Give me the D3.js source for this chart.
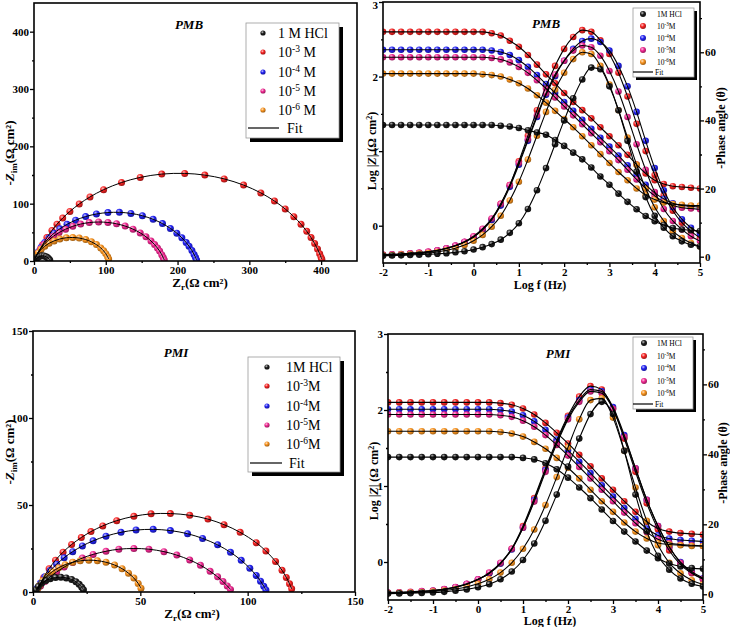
<!DOCTYPE html>
<html lang="en">
<head>
<meta charset="UTF-8">
<title>EIS PMB / PMI</title>
<script src="https://d3js.org/d3.v7.min.js"></script>
<style>
  body { margin: 0; background: #fff; }
  svg { display: block; font-family: 'Liberation Serif', 'Times New Roman', serif; }
</style>
</head>
<body>
<svg id="chart" width="730" height="627"></svg>
<script>
// series order: 1 M HCl, 10^-3, 10^-4, 10^-5, 10^-6 M
const seriesColors = ['#1c1c1c', '#f52222', '#2222f2', '#ee2790', '#f7921e'];
const concExp = ['-3', '-4', '-5', '-6'];

// Nyquist, PMB  [Zr, -Zim]
const pmbNyqHCl = [[2,1.5],[3.5,4],[5.5,6.5],[8,8.2],[11,9],[14,8.8],[17,7.5],[19.5,5.2],[21,3.2],[22,1.2]];
const pmbNyqE3 = [[6,12.6],[12,28.2],[18,40.8],[25,53.3],[32,64.1],[40,74.9],[50,86.5],[63,99.4],[78,111.7],[97,124.4],[122,136.9],[148,145.8],[178,151.6],[210,152.8],[238,149.8],[265,143.2],[292,132.4],[316,118.8],[335,104.6],[350,90.7],[362,77.3],[372,64.1],[380,51.7],[386,40.8],[391,30.4],[395,20.8],[398,12.6],[400,6.4],[401,3.0]];
const pmbNyqE4 = [[3,8.9],[6,16.1],[10,24.0],[15,32.2],[21,40.4],[28,48.5],[36,56.1],[46,63.9],[58,71.2],[72,77.5],[87,82.0],[103,84.5],[119,84.9],[135,83.0],[151,78.9],[166,72.7],[179,65.2],[190,56.9],[199,48.5],[206,40.4],[212,32.2],[216,25.8],[220,18.2],[223,11.5],[225,6.2],[226.5,1.7]];
const pmbNyqE5 = [[2,6.0],[5,13.2],[9,20.9],[14,28.6],[20,36.1],[27,43.2],[35,49.7],[44,55.5],[54,60.5],[65,64.4],[77,67.0],[90,68.0],[103,67.2],[115,64.9],[127,60.9],[138,55.5],[148,49.0],[156,42.2],[163,34.9],[168,28.6],[172,22.5],[175,17.3],[178,11.0],[180,6.0],[181.5,1.7]];
const pmbNyqE6 = [[1,3.5],[3,8.7],[6,14.6],[10,20.4],[15,25.9],[21,30.9],[28,35.1],[36,38.4],[45,40.5],[54,41.0],[63,40.0],[72,37.4],[80,33.5],[87,28.6],[93,22.8],[97,17.7],[100,12.8],[102.5,7.6],[104,3.5]];

// Nyquist, PMI
const pmiNyqHCl = [[1.5,1.3],[2.5,3.1],[4,5.0],[6,6.6],[8,7.6],[10.5,8.3],[13,8.5],[15.5,8.1],[18,7.2],[20,5.9],[21.5,4.4],[22.7,2.8],[23.5,1.3]];
const pmiNyqE3 = [[3,3.3],[5,8.4],[7.5,13.4],[10.5,18.3],[14,22.9],[18,27.3],[22.5,31.3],[27,34.7],[32.5,38.0],[39,41.0],[47,43.5],[55,44.9],[64,45.1],[73,44.1],[81.5,41.9],[89,38.7],[96.5,34.3],[104,28.3],[108.5,23.5],[113,17.6],[116,12.5],[118,8.4],[119.5,4.7],[120.5,1.8]];
const pmiNyqE4 = [[2,2.3],[3.5,5.2],[5.5,8.7],[8,12.3],[11,16.0],[14.5,19.7],[18.5,23.2],[23,26.5],[28,29.4],[34,32.1],[41,34.3],[48,35.6],[56,36.0],[64,35.3],[72,33.5],[79,30.8],[86,27.1],[92,22.8],[97,18.2],[101,13.6],[104,9.5],[106,6.2],[107.5,3.3],[108.5,1.2]];
const pmiNyqE5 = [[2,1.5],[3.5,3.5],[5.5,6.0],[8,8.7],[11,11.5],[14.5,14.3],[18.5,17.0],[23,19.5],[28,21.6],[34,23.4],[40,24.6],[47,25.0],[54,24.6],[61,23.2],[67,21.2],[73,18.4],[78,15.4],[82.5,11.9],[86,8.7],[88.5,6.0],[90.5,3.5],[92,1.5]];
const pmiNyqE6 = [[2,1.5],[3,3.7],[4.5,6.4],[6.5,9.1],[9,11.7],[12,14.0],[15,15.7],[18.5,17.1],[22,17.9],[26,18.3],[30,18.0],[34,17.1],[38,15.5],[41.5,13.4],[44.5,10.8],[47,8.0],[49,4.9],[50.3,2.2]];

// Bode, PMB (log f step 0.2)
const freqPMB = [-2,-1.8,-1.6,-1.4,-1.2,-1,-0.8,-0.6,-0.4,-0.2,0,0.2,0.4,0.6,0.8,1,1.2,1.4,1.6,1.8,2,2.2,2.4,2.6,2.8,3,3.2,3.4,3.6,3.8,4,4.2,4.4,4.6,4.8,5];
const pmbZHCl = [1.35,1.35,1.35,1.35,1.35,1.35,1.35,1.35,1.35,1.35,1.35,1.35,1.35,1.34,1.33,1.31,1.28,1.25,1.22,1.15,1.07,0.98,0.89,0.78,0.66,0.55,0.43,0.32,0.22,0.13,0.06,0.01,-0.03,-0.05,-0.06,-0.07];
const pmbZE3 = [2.6,2.6,2.6,2.6,2.6,2.6,2.6,2.6,2.6,2.6,2.6,2.6,2.58,2.55,2.48,2.40,2.29,2.16,2.03,1.91,1.78,1.66,1.55,1.44,1.32,1.20,1.08,0.95,0.82,0.70,0.61,0.56,0.53,0.52,0.51,0.50];
const pmbZE4 = [2.36,2.36,2.36,2.36,2.36,2.36,2.36,2.36,2.36,2.36,2.36,2.36,2.35,2.33,2.29,2.22,2.13,2.02,1.90,1.78,1.66,1.54,1.42,1.30,1.18,1.06,0.94,0.81,0.68,0.55,0.44,0.36,0.30,0.27,0.26,0.25];
const pmbZE5 = [2.26,2.26,2.26,2.26,2.26,2.26,2.26,2.26,2.26,2.26,2.26,2.26,2.25,2.23,2.19,2.13,2.05,1.95,1.84,1.72,1.60,1.48,1.36,1.24,1.12,1.00,0.88,0.75,0.62,0.50,0.40,0.32,0.27,0.24,0.23,0.22];
const pmbZE6 = [2.04,2.04,2.04,2.04,2.04,2.04,2.04,2.04,2.04,2.04,2.04,2.03,2.02,2.00,1.96,1.91,1.84,1.75,1.65,1.54,1.43,1.32,1.20,1.08,0.96,0.84,0.72,0.61,0.50,0.41,0.35,0.31,0.29,0.28,0.27,0.27];
const pmbPhHCl = [0.3,0.35,0.4,0.5,0.6,0.7,0.85,1.0,1.3,1.6,2.1,2.8,3.7,5.0,7.0,9.8,14,19.5,26,33,40,46.5,52,55.5,55,50,43,34,25,17.5,12,8.5,6,4.5,3.5,3];
const pmbPhE3 = [0.5,0.6,0.7,0.9,1.1,1.4,1.8,2.4,3.2,4.3,5.8,8,11,15.5,21,28,35.5,43,50,56,61,64.5,66.5,66,63.5,59.5,54,47,39,31,24,18,13.5,10,7.5,5.5];
const pmbPhE4 = [0.5,0.6,0.7,0.9,1.1,1.4,1.8,2.4,3.2,4.3,5.8,7.9,10.8,15,20.5,27,34,41,47.5,53,57.5,61,63.3,64,63,60.5,56,50,42.5,34,26,19.5,14.5,11,8.5,6.8];
const pmbPhE5 = [0.6,0.7,0.8,1.0,1.2,1.5,1.9,2.5,3.3,4.4,6,8.2,11.2,15.5,21,27.5,34.5,41.5,48,53.5,57.5,60.5,62,61.5,59,54.5,48.5,41,33,25.5,19,14,10.5,8,6,4.6];
const pmbPhE6 = [0.4,0.5,0.6,0.7,0.9,1.1,1.4,1.9,2.5,3.4,4.7,6.4,8.8,12,16.5,22,28.5,35.5,42.5,49,54,58,60,59.5,56,50.5,43,35,27,20,14.5,10.5,7.5,5.5,4,3];

// Bode, PMI (log f step 0.25)
const freqPMI = [-2,-1.75,-1.5,-1.25,-1,-0.75,-0.5,-0.25,0,0.25,0.5,0.75,1,1.25,1.5,1.75,2,2.25,2.5,2.75,3,3.25,3.5,3.75,4,4.25,4.5,4.75,5];
const pmiZHCl = [1.38,1.38,1.38,1.38,1.38,1.38,1.38,1.38,1.38,1.38,1.38,1.38,1.37,1.35,1.30,1.22,1.11,0.98,0.84,0.69,0.54,0.40,0.27,0.15,0.05,-0.02,-0.06,-0.08,-0.09];
const pmiZE3 = [2.10,2.10,2.10,2.10,2.10,2.10,2.10,2.10,2.10,2.10,2.09,2.07,2.02,1.94,1.83,1.70,1.56,1.41,1.26,1.10,0.95,0.80,0.66,0.53,0.44,0.40,0.38,0.37,0.36];
const pmiZE4 = [2.01,2.01,2.01,2.01,2.01,2.01,2.01,2.01,2.01,2.01,2.00,1.98,1.93,1.85,1.74,1.61,1.47,1.32,1.17,1.01,0.86,0.71,0.57,0.44,0.35,0.31,0.29,0.28,0.27];
const pmiZE5 = [1.94,1.94,1.94,1.94,1.94,1.94,1.94,1.94,1.94,1.94,1.93,1.91,1.86,1.78,1.67,1.54,1.40,1.25,1.10,0.95,0.80,0.65,0.51,0.39,0.30,0.25,0.23,0.22,0.21];
const pmiZE6 = [1.72,1.72,1.72,1.72,1.72,1.72,1.72,1.72,1.72,1.72,1.71,1.69,1.65,1.58,1.49,1.37,1.24,1.10,0.95,0.80,0.66,0.52,0.40,0.31,0.25,0.23,0.22,0.21,0.21];
const pmiPhHCl = [0.2,0.25,0.3,0.4,0.5,0.7,1.0,1.4,2.0,2.9,4.3,6.5,9.8,14.5,21,28.5,36.5,44.5,51.5,55,51.5,41,28.5,18,11,7,4.5,3,2.2];
const pmiPhE3 = [0.4,0.5,0.6,0.8,1.0,1.4,2.0,2.9,4.2,6.0,8.8,13,19.5,27.5,36,44,51,56.5,59.5,58.5,53,44.5,35,26,18.5,12.5,8.5,6,4.3];
const pmiPhE4 = [0.4,0.5,0.6,0.8,1.0,1.4,2.0,2.9,4.2,6.0,8.8,12.8,19,27,35.5,43.5,50.5,55.5,58.5,58,53.5,45.5,36,27,19.5,13.5,9.2,6.5,4.6];
const pmiPhE5 = [0.5,0.6,0.7,0.9,1.1,1.5,2.1,3.0,4.3,6.2,9.0,13,19,26.5,35,43,50,55,58,57.5,53,45,36,27,19.5,13.5,9,6.2,4.4];
const pmiPhE6 = [0.3,0.4,0.5,0.6,0.8,1.1,1.5,2.1,3.0,4.3,6.2,9.0,13,18.5,25.5,33.5,42,50,55.5,56,50.5,41,30.5,21,14,9,6,4,2.8];

const svg = d3.select('#chart');
const defs = svg.append('defs');
const fmt = d => String(d);   // plain hyphen minus, like the original

// shaded ball markers
seriesColors.forEach((c, i) => {
  const gr = defs.append('radialGradient').attr('id', 'ball' + i)
    .attr('cx', '38%').attr('cy', '34%').attr('r', '68%');
  gr.append('stop').attr('offset', '0%').attr('stop-color', d3.interpolateRgb(c, '#fff')(0.75));
  gr.append('stop').attr('offset', '45%').attr('stop-color', c);
  gr.append('stop').attr('offset', '100%').attr('stop-color', d3.color(c).darker(1.3));
});

let clipCount = 0;
function clipRect(x0, y0, x1, y1) {
  const id = 'clip' + (clipCount++);
  defs.append('clipPath').attr('id', id).append('rect')
    .attr('x', x0).attr('y', y0).attr('width', x1 - x0).attr('height', y1 - y0);
  return `url(#${id})`;
}

function styleAxis(sel) {
  sel.select('.domain').remove();
  sel.selectAll('.tick line').attr('stroke', '#000').attr('stroke-width', 1.3);
  sel.selectAll('.tick text').attr('font-size', 11).attr('font-weight', 'bold')
    .attr('fill', '#000').attr('font-family', "'Liberation Serif', serif");
}

function addAxis(g, axis, tx, ty) {
  return g.append('g').attr('transform', `translate(${tx},${ty})`).call(axis).call(styleAxis);
}

function concLabel(sel, i, spaced, fs) {
  if (i === 0) {
    sel.text(spaced ? '1 M HCl' : '1M HCl');
    return;
  }
  sel.append('tspan').text('10');
  sel.append('tspan').attr('dy', -fs * 0.38).attr('font-size', fs * 0.68).text(concExp[i - 1]);
  sel.append('tspan').attr('dy', fs * 0.38).text(spaced ? ' M' : 'M');
}

function legend(g, p) {
  g.append('rect').attr('x', p.x + p.sh).attr('y', p.y + p.sh).attr('width', p.w).attr('height', p.h).attr('fill', '#000');
  g.append('rect').attr('x', p.x).attr('y', p.y).attr('width', p.w).attr('height', p.h)
    .attr('fill', '#fff').attr('stroke', '#999').attr('stroke-width', 0.8);
  seriesColors.forEach((c, i) => {
    g.append('circle').attr('cx', p.mx).attr('cy', p.rows[i]).attr('r', p.r).attr('fill', `url(#ball${i})`);
    const t = g.append('text').attr('x', p.tx).attr('y', p.rows[i] + p.fs * 0.35)
      .attr('font-size', p.fs).attr('fill', '#000');
    concLabel(t, i, p.spaced, p.fs);
  });
  g.append('line').attr('x1', p.fx0).attr('x2', p.fx1).attr('y1', p.rows[5]).attr('y2', p.rows[5])
    .attr('stroke', '#000').attr('stroke-width', 1.2);
  g.append('text').attr('x', p.ftx).attr('y', p.rows[5] + p.fs * 0.35).attr('font-size', p.fs).text('Fit');
}

function nyquist(p) {
  const x = d3.scaleLinear().domain([0, p.max]).range([p.x0, p.x1]);
  const y = d3.scaleLinear().domain([0, p.max]).range([p.y1, p.y0]);
  const g = svg.append('g');

  addAxis(g, d3.axisBottom(x).tickValues(p.ticks).tickSize(4).tickPadding(1).tickFormat(fmt), 0, p.y1);
  addAxis(g, d3.axisBottom(x).tickValues(p.minor).tickSize(2).tickFormat(''), 0, p.y1);
  addAxis(g, d3.axisLeft(y).tickValues(p.ticks).tickSize(4).tickPadding(1).tickFormat(fmt), p.x0, 0);
  addAxis(g, d3.axisLeft(y).tickValues(p.minor).tickSize(2).tickFormat(''), p.x0, 0);

  const plot = g.append('g').attr('clip-path', clipRect(p.x0, p.y0, p.x1, p.y1));
  const line = d3.line().x(d => x(d[0])).y(d => y(d[1])).curve(d3.curveCatmullRom);
  const order = [1, 2, 3, 4, 0];
  order.forEach(i => {
    plot.append('g').selectAll('circle').data(p.series[i]).join('circle')
      .attr('cx', d => x(d[0])).attr('cy', d => y(d[1])).attr('r', 3.5)
      .attr('fill', `url(#ball${i})`);
  });
  order.forEach(i => {
    plot.append('path').attr('d', line(p.series[i])).attr('fill', 'none')
      .attr('stroke', '#000').attr('stroke-width', 1);
  });

  g.append('rect').attr('x', p.x0).attr('y', p.y0).attr('width', p.x1 - p.x0).attr('height', p.y1 - p.y0)
    .attr('fill', 'none').attr('stroke', '#000').attr('stroke-width', 1.6);

  g.append('text').attr('x', p.lab[0]).attr('y', p.lab[1]).attr('text-anchor', 'middle')
    .attr('font-size', 13).attr('font-weight', 'bold').attr('font-style', 'italic').text(p.name);

  legend(g, p.legend);

  // axis titles
  const xt = g.append('text').attr('x', p.xt[0]).attr('y', p.xt[1]).attr('text-anchor', 'middle')
    .attr('font-size', 13).attr('font-weight', 'bold');
  xt.append('tspan').text('Z');
  xt.append('tspan').attr('dy', 3).attr('font-size', 9).text('r');
  xt.append('tspan').attr('dy', -3).text('(Ω cm²)');
  const yt = g.append('text').attr('transform', `translate(${p.yt[0]},${p.yt[1]}) rotate(-90)`)
    .attr('text-anchor', 'middle').attr('font-size', 13).attr('font-weight', 'bold');
  yt.append('tspan').text('-');
  yt.append('tspan').attr('font-style', 'italic').text('Z');
  yt.append('tspan').attr('dy', 3).attr('font-size', 9).text('im');
  yt.append('tspan').attr('dy', -3).text('(Ω cm²)');
}

function bode(p) {
  const x = d3.scaleLinear().domain([-2, 5]).range([p.x0, p.x1]);
  const yL = d3.scaleLinear().domain([-0.5, 3]).range([p.y1, p.y0]);
  const yR = d3.scaleLinear().domain(p.phDomain).range([p.y1, p.y0]);
  const g = svg.append('g');

  addAxis(g, d3.axisBottom(x).tickValues([-2, -1, 0, 1, 2, 3, 4, 5]).tickSize(4).tickPadding(1).tickFormat(fmt), 0, p.y1);
  addAxis(g, d3.axisBottom(x).tickValues([-1.5, -0.5, 0.5, 1.5, 2.5, 3.5, 4.5]).tickSize(2).tickFormat(''), 0, p.y1);
  const left = addAxis(g, d3.axisLeft(yL).tickValues([0, 1, 2, 3]).tickSize(4).tickPadding(1).tickFormat(fmt), p.x0, 0);
  // keep the top label inside the picture
  left.selectAll('.tick text').filter(d => d === 3 && yL(3) < 8).attr('dy', '0.6em');
  addAxis(g, d3.axisLeft(yL).tickValues([0.5, 1.5, 2.5]).tickSize(2).tickFormat(''), p.x0, 0);
  addAxis(g, d3.axisRight(yR).tickValues([0, 20, 40, 60]).tickSize(4).tickPadding(1).tickFormat(fmt), p.x1, 0);
  addAxis(g, d3.axisRight(yR).tickValues([10, 30, 50, 70]).tickSize(2).tickFormat(''), p.x1, 0);

  const plot = g.append('g').attr('clip-path', clipRect(p.x0, p.y0, p.x1, p.y1));
  const lineZ = d3.line().x((d, k) => x(p.freq[k])).y(d => yL(d)).curve(d3.curveMonotoneX);
  const linePh = d3.line().x((d, k) => x(p.freq[k])).y(d => yR(d)).curve(d3.curveMonotoneX);
  const order = [1, 2, 3, 4, 0];
  order.forEach(i => {
    plot.append('g').selectAll('circle').data(p.logZ[i]).join('circle')
      .attr('cx', (d, k) => x(p.freq[k])).attr('cy', d => yL(d)).attr('r', 3.3)
      .attr('fill', `url(#ball${i})`);
    plot.append('g').selectAll('circle').data(p.phase[i]).join('circle')
      .attr('cx', (d, k) => x(p.freq[k])).attr('cy', d => yR(d)).attr('r', 3.3)
      .attr('fill', `url(#ball${i})`);
  });
  order.forEach(i => {
    plot.append('path').attr('d', lineZ(p.logZ[i])).attr('fill', 'none').attr('stroke', '#000').attr('stroke-width', 1.1);
    plot.append('path').attr('d', linePh(p.phase[i])).attr('fill', 'none').attr('stroke', '#000').attr('stroke-width', 1.1);
  });

  g.append('rect').attr('x', p.x0).attr('y', p.y0).attr('width', p.x1 - p.x0).attr('height', p.y1 - p.y0)
    .attr('fill', 'none').attr('stroke', '#000').attr('stroke-width', 1.6);

  g.append('text').attr('x', p.lab[0]).attr('y', p.lab[1]).attr('text-anchor', 'middle')
    .attr('font-size', 13).attr('font-weight', 'bold').attr('font-style', 'italic').text(p.name);

  legend(g, p.legend);

  g.append('text').attr('x', p.xt[0]).attr('y', p.xt[1]).attr('text-anchor', 'middle')
    .attr('font-size', 12).attr('font-weight', 'bold').text('Log f (Hz)');
  const lt = g.append('text').attr('transform', `translate(${p.lt[0]},${p.lt[1]}) rotate(-90)`)
    .attr('text-anchor', 'middle').attr('font-size', 12).attr('font-weight', 'bold');
  lt.append('tspan').text('Log |');
  lt.append('tspan').attr('font-style', 'italic').text('Z');
  lt.append('tspan').text('| (Ω cm');
  lt.append('tspan').attr('dy', -4).attr('font-size', 8).text('2');
  lt.append('tspan').attr('dy', 4).text(')');
  g.append('text').attr('transform', `translate(${p.rt[0]},${p.rt[1]}) rotate(-90)`)
    .attr('text-anchor', 'middle').attr('font-size', 12).attr('font-weight', 'bold').text('-Phase angle (θ)');
}

nyquist({
  name: 'PMB', x0: 34, x1: 357, y0: 3, y1: 261, max: 450,
  ticks: [0, 100, 200, 300, 400], minor: [50, 150, 250, 350],
  series: [pmbNyqHCl, pmbNyqE3, pmbNyqE4, pmbNyqE5, pmbNyqE6],
  lab: [189, 29], xt: [200, 287], yt: [14, 153],
  legend: { x: 246, y: 23, w: 93, h: 115, sh: 4, mx: 263, tx: 278, r: 2.6, fs: 14, spaced: true,
            rows: [33, 52, 72, 91, 110, 128], fx0: 248, fx1: 279, ftx: 287 }
});

nyquist({
  name: 'PMI', x0: 33, x1: 355, y0: 331, y1: 592, max: 150,
  ticks: [0, 50, 100, 150], minor: [25, 75, 125],
  series: [pmiNyqHCl, pmiNyqE3, pmiNyqE4, pmiNyqE5, pmiNyqE6],
  lab: [176, 357], xt: [192, 618], yt: [14, 452],
  legend: { x: 248, y: 357, w: 92, h: 115, sh: 4, mx: 267, tx: 286, r: 2.6, fs: 14, spaced: false,
            rows: [367, 386, 406, 425, 444, 463], fx0: 250, fx1: 282, ftx: 289 }
});

bode({
  name: 'PMB', x0: 383, x1: 700, y0: 2, y1: 263, phDomain: [-1.85, 74.76],
  freq: freqPMB,
  logZ: [pmbZHCl, pmbZE3, pmbZE4, pmbZE5, pmbZE6],
  phase: [pmbPhHCl, pmbPhE3, pmbPhE4, pmbPhE5, pmbPhE6],
  lab: [546, 28], xt: [540, 289], lt: [376, 151], rt: [725, 128],
  legend: { x: 633, y: 8, w: 61, h: 69, sh: 3, mx: 643, tx: 657, r: 3, fs: 7.5, spaced: false,
            rows: [14, 26, 38, 50, 62, 72], fx0: 633, fx1: 653, ftx: 655 }
});

bode({
  name: 'PMI', x0: 388, x1: 703, y0: 334, y1: 600, phDomain: [-1.63, 74.4],
  freq: freqPMI,
  logZ: [pmiZHCl, pmiZE3, pmiZE4, pmiZE5, pmiZE6],
  phase: [pmiPhHCl, pmiPhE3, pmiPhE4, pmiPhE5, pmiPhE6],
  lab: [558, 358], xt: [550, 625], lt: [378, 481], rt: [727, 463],
  legend: { x: 633, y: 337, w: 60, h: 72, sh: 3, mx: 644, tx: 657, r: 3, fs: 7.5, spaced: false,
            rows: [343, 356, 368, 381, 393, 404], fx0: 633, fx1: 653, ftx: 655 }
});
</script>
</body>
</html>
